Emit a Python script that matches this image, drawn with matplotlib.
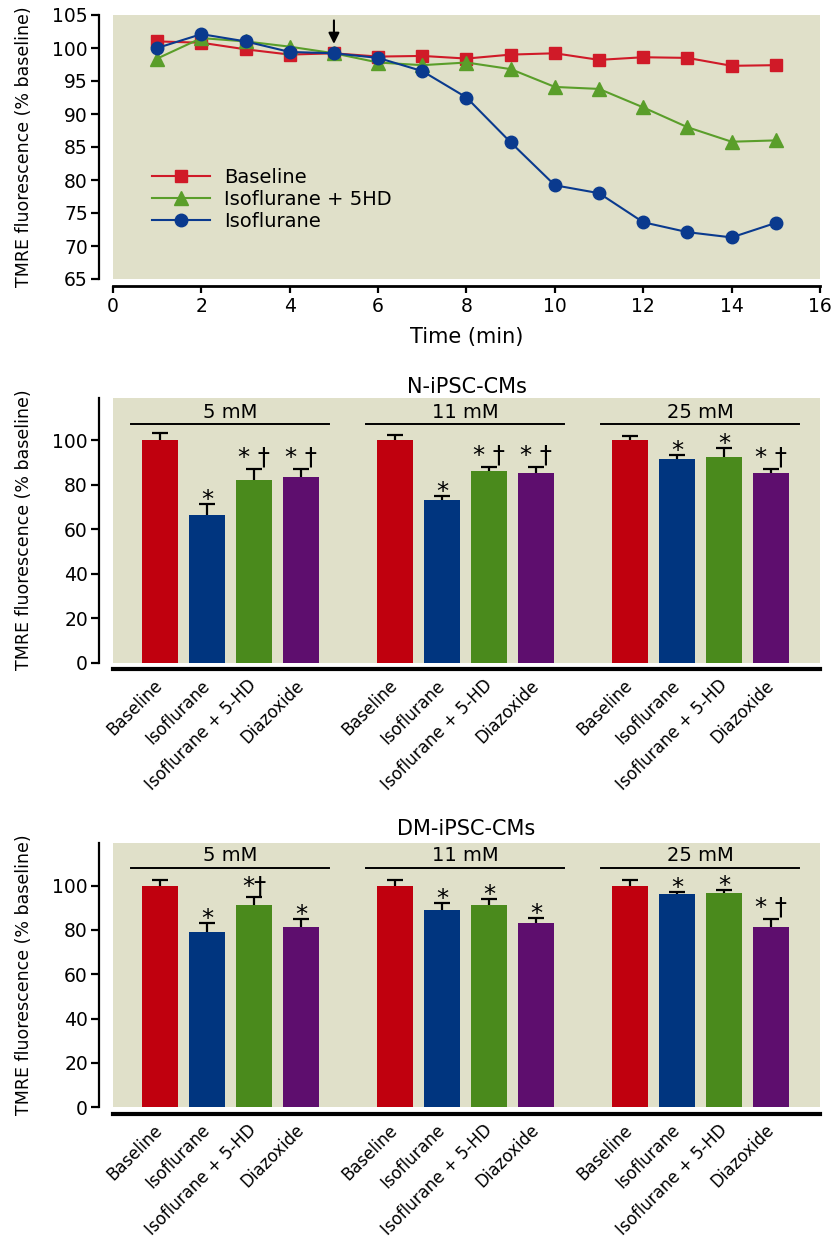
import matplotlib
matplotlib.use('Agg')
import matplotlib.pyplot as plt
import numpy as np

plt.rcParams['font.family'] = ['DejaVu Sans']

# ---------------- data ----------------
time_min = [1, 2, 3, 4, 5, 6, 7, 8, 9, 10, 11, 12, 13, 14, 15]
baseline_line = [101.0, 100.8, 99.8, 99.0, 99.2, 98.7, 98.8, 98.4, 99.0, 99.2, 98.2, 98.6, 98.5, 97.3, 97.4]
iso5hd_line = [98.4, 101.5, 101.0, 100.2, 99.2, 97.8, 97.4, 97.8, 96.8, 94.1, 93.8, 91.0, 88.0, 85.8, 86.0]
iso_line = [100.0, 102.1, 101.0, 99.4, 99.2, 98.5, 96.5, 92.5, 85.7, 79.2, 78.0, 73.6, 72.1, 71.3, 73.5]
line_labels = ['Baseline', 'Isoflurane + 5HD', 'Isoflurane']
arrow_time = 5

treatments = ['Baseline', 'Isoflurane', 'Isoflurane + 5-HD', 'Diazoxide']
concentrations = ['5 mM', '11 mM', '25 mM']

n_means = [[100, 66.4, 82.1, 83.4],
           [100, 73.2, 86.2, 85.2],
           [100, 91.5, 92.4, 85.2]]
n_errs = [[3.4, 5.0, 4.9, 3.6],
          [2.5, 1.8, 1.7, 2.9],
          [2.1, 1.8, 4.1, 1.8]]
n_marks = [['', '*', '* \u2020', '* \u2020'],
           ['', '*', '* \u2020', '* \u2020'],
           ['', '*', '*', '* \u2020']]

dm_means = [[100, 79.0, 91.3, 81.2],
            [100, 89.2, 91.3, 83.2],
            [100, 96.1, 96.6, 81.2]]
dm_errs = [[2.3, 4.2, 3.4, 3.8],
           [2.7, 3.0, 2.5, 2.2],
           [2.3, 1.0, 1.3, 3.9]]
dm_marks = [['', '*', '*\u2020', '*'],
            ['', '*', '*', '*'],
            ['', '*', '*', '* \u2020']]

# ---------------- style ----------------
W, H = 834, 1237
beige = '#E0E0C9'
line_colors = ['#D01A28', '#5A9E2A', '#0A3A8E']
bar_colors = ['#C0000E', '#00357F', '#4A8A1C', '#5E0E6E']

fig = plt.figure(figsize=(W / 100, H / 100), dpi=100)


def px_axes(left, top, right, bottom):
    return fig.add_axes([left / W, 1 - bottom / H, (right - left) / W, (bottom - top) / H])


def style_left(ax):
    ax.spines['top'].set_visible(False)
    ax.spines['right'].set_visible(False)
    ax.spines['left'].set_position(('outward', 10))
    ax.spines['left'].set_linewidth(1.6)
    ax.tick_params(axis='y', direction='out', length=6, width=1.6, pad=2, labelsize=13.5)


# ---------------- top line chart ----------------
ax1 = px_axes(113, 15, 820, 279)
ax1.set_facecolor(beige)
style_left(ax1)
ax1.spines['bottom'].set_position(('outward', 5))
ax1.spines['bottom'].set_linewidth(2.0)
ax1.tick_params(axis='x', direction='out', length=5, width=1.6, pad=3, labelsize=13.5)

ax1.plot(time_min, baseline_line, color=line_colors[0], marker='s', ms=8, lw=1.5,
         label=line_labels[0], clip_on=False)
ax1.plot(time_min, iso5hd_line, color=line_colors[1], marker='^', ms=9.5, lw=1.5,
         label=line_labels[1], clip_on=False)
ax1.plot(time_min, iso_line, color=line_colors[2], marker='o', ms=9, lw=1.5,
         label=line_labels[2], clip_on=False)

ax1.set_xlim(0, 16)
ax1.set_ylim(65, 105)
ax1.set_xticks(np.arange(0, 17, 2))
ax1.set_yticks(np.arange(65, 106, 5))
ax1.set_ylabel('TMRE fluorescence (% baseline)', fontsize=12.5)
ax1.yaxis.set_label_coords((33 - 113) / 707, 0.5)

ax1.annotate('', xy=(arrow_time, 100.2), xytext=(arrow_time, 104.6),
             arrowprops=dict(arrowstyle='-|>', color='black', lw=1.5, mutation_scale=16))

leg = ax1.legend(loc='upper left', bbox_to_anchor=((152 - 113) / 707, (279 - 168) / 264),
                 frameon=False, fontsize=14, handlelength=3.0, handletextpad=0.7,
                 labelspacing=0.15, borderpad=0, borderaxespad=0)

fig.text(466.5 / W, 1 - 337 / H, 'Time (min)', ha='center', va='center', fontsize=15)


# ---------------- bar charts ----------------
def bar_panel(ax, means, errs, marks, title, title_y, header_y, label_y):
    ax.set_facecolor(beige)
    style_left(ax)
    ax.spines['bottom'].set_position(('outward', 4.5))
    ax.spines['bottom'].set_linewidth(3.0)
    for g, conc in enumerate(concentrations):
        xs = np.arange(len(treatments)) + g * 5
        vals = np.array(means[g], dtype=float)
        er = np.array(errs[g], dtype=float)
        ax.bar(xs, vals, width=0.78, color=bar_colors, zorder=2)
        ax.errorbar(xs, vals, yerr=[np.zeros_like(er), er], fmt='none', ecolor='black',
                    elinewidth=1.6, capsize=0, zorder=3)
        ax.plot(xs, vals + er, linestyle='none', marker='_', ms=11, mew=1.6,
                color='black', zorder=3)
        for i, m in enumerate(marks[g]):
            if not m:
                continue
            dy = 3.0 if '\u2020' in m else -2.0
            ax.annotate(m, xy=(xs[i], vals[i] + er[i]), xytext=(0, dy),
                        textcoords='offset points', ha='center', va='baseline',
                        fontsize=17.5, zorder=4)
        ax.plot([g * 5 - 0.62, g * 5 + 3.6], [header_y, header_y], color='black', lw=1.4)
        ax.text(g * 5 + 1.5, label_y, conc, ha='center', va='center', fontsize=14)

    ticks = [g * 5 + i for g in range(len(concentrations)) for i in range(len(treatments))]
    ax.set_xticks(ticks)
    ax.set_xticklabels(treatments * len(concentrations), rotation=45, ha='right',
                       va='center', rotation_mode='anchor', fontsize=12)
    ax.tick_params(axis='x', length=0, pad=10)
    ax.set_xlim(-1.0, 14.04)
    ax.set_ylim(0, 119.2)
    ax.set_yticks(np.arange(0, 101, 20))
    ax.set_ylabel('TMRE fluorescence (% baseline)', fontsize=12.5)
    ax.yaxis.set_label_coords((33 - 113) / 707, 0.5)
    fig.text(466.5 / W, 1 - title_y / H, title, ha='center', va='center', fontsize=15)


ax2 = px_axes(113, 397.5, 820, 662.7)
bar_panel(ax2, n_means, n_errs, n_marks, 'N-iPSC-CMs', 387, 107.3, 112.4)

ax3 = px_axes(113, 843, 820, 1107.3)
bar_panel(ax3, dm_means, dm_errs, dm_marks, 'DM-iPSC-CMs', 829, 108.1, 113.4)

fig.savefig('out.png', dpi=100, facecolor='white')
